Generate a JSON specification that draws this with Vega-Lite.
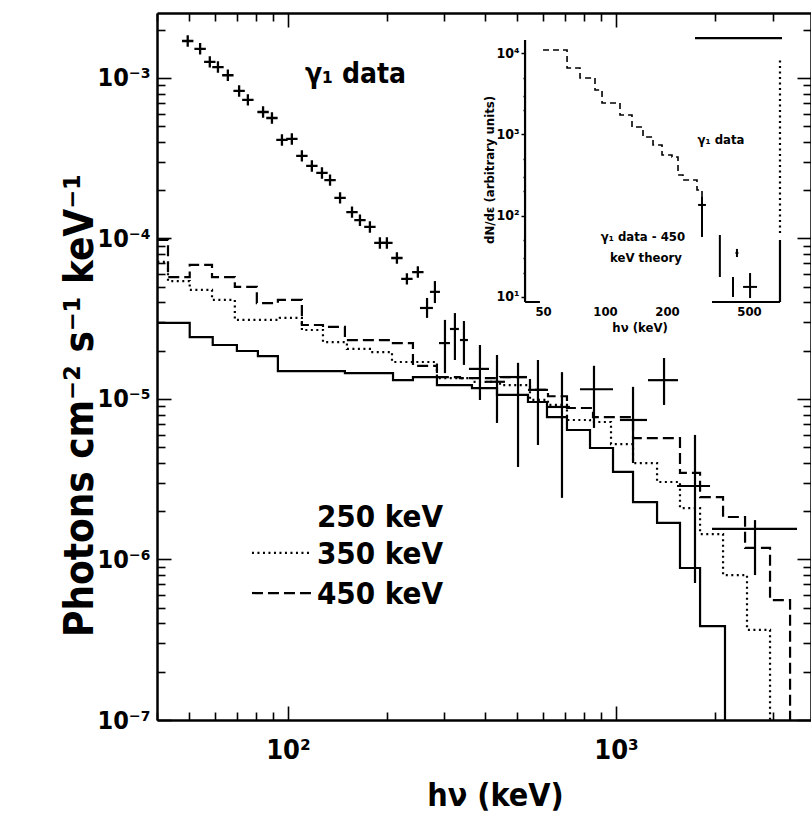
{
  "$schema": "https://vega.github.io/schema/vega-lite/v6.json",
  "autosize": {"type": "none"},
  "padding": {"left": 157, "top": 13, "right": 0, "bottom": 94},
  "width": 654,
  "height": 707,
  "background": "white",
  "config": {"view": {"stroke": null}, "font": "Liberation Sans Narrow, DejaVu Sans Condensed, Liberation Sans, sans-serif"},
  "datasets": {
    "steps": [
      {"s": "250 keV", "x": 40, "y": 2.98e-5}, {"s": "250 keV", "x": 50.2, "y": 2.43e-5}, {"s": "250 keV", "x": 59, "y": 2.17e-5},
      {"s": "250 keV", "x": 69.9, "y": 1.99e-5}, {"s": "250 keV", "x": 81, "y": 1.85e-5}, {"s": "250 keV", "x": 93.2, "y": 1.49e-5},
      {"s": "250 keV", "x": 149.2, "y": 1.45e-5}, {"s": "250 keV", "x": 209.1, "y": 1.31e-5}, {"s": "250 keV", "x": 240.5, "y": 1.37e-5},
      {"s": "250 keV", "x": 284.6, "y": 1.22e-5}, {"s": "250 keV", "x": 363.9, "y": 1.17e-5}, {"s": "250 keV", "x": 433.8, "y": 1.06e-5},
      {"s": "250 keV", "x": 539.1, "y": 9.58e-6}, {"s": "250 keV", "x": 616.1, "y": 7.72e-6}, {"s": "250 keV", "x": 708.9, "y": 6.41e-6},
      {"s": "250 keV", "x": 833.3, "y": 4.95e-6}, {"s": "250 keV", "x": 979.3, "y": 3.51e-6}, {"s": "250 keV", "x": 1127, "y": 2.28e-6},
      {"s": "250 keV", "x": 1334, "y": 1.69e-6}, {"s": "250 keV", "x": 1567, "y": 8.85e-7}, {"s": "250 keV", "x": 1804, "y": 3.85e-7},
      {"s": "250 keV", "x": 2149, "y": 1e-7},
      {"s": "350 keV", "x": 40, "y": 7.14e-5}, {"s": "350 keV", "x": 43.1, "y": 5.43e-5}, {"s": "350 keV", "x": 50.2, "y": 4.78e-5},
      {"s": "350 keV", "x": 58.7, "y": 4.14e-5}, {"s": "350 keV", "x": 68.9, "y": 3.11e-5}, {"s": "350 keV", "x": 94.5, "y": 3.2e-5},
      {"s": "350 keV", "x": 110.3, "y": 2.69e-5}, {"s": "350 keV", "x": 127.9, "y": 2.26e-5}, {"s": "350 keV", "x": 151.3, "y": 2.05e-5},
      {"s": "350 keV", "x": 177.8, "y": 1.96e-5}, {"s": "350 keV", "x": 207.6, "y": 1.7e-5}, {"s": "350 keV", "x": 284.6, "y": 1.35e-5},
      {"s": "350 keV", "x": 366.4, "y": 1.28e-5}, {"s": "350 keV", "x": 443, "y": 1.22e-5}, {"s": "350 keV", "x": 546.8, "y": 9.86e-6},
      {"s": "350 keV", "x": 620.5, "y": 9.18e-6}, {"s": "350 keV", "x": 708.9, "y": 7.4e-6}, {"s": "350 keV", "x": 833.3, "y": 7.19e-6},
      {"s": "350 keV", "x": 965.7, "y": 5.24e-6}, {"s": "350 keV", "x": 1127, "y": 3.99e-6}, {"s": "350 keV", "x": 1334, "y": 3.04e-6},
      {"s": "350 keV", "x": 1567, "y": 2.09e-6}, {"s": "350 keV", "x": 1804, "y": 1.44e-6}, {"s": "350 keV", "x": 2120, "y": 8e-7},
      {"s": "350 keV", "x": 2508, "y": 3.64e-7}, {"s": "350 keV", "x": 2948, "y": 1e-7},
      {"s": "450 keV", "x": 40, "y": 9.79e-5}, {"s": "450 keV", "x": 43.1, "y": 5.75e-5}, {"s": "450 keV", "x": 50.2, "y": 6.84e-5},
      {"s": "450 keV", "x": 58.7, "y": 5.75e-5}, {"s": "450 keV", "x": 68.9, "y": 4.99e-5}, {"s": "450 keV", "x": 80.4, "y": 3.96e-5},
      {"s": "450 keV", "x": 93.2, "y": 4.14e-5}, {"s": "450 keV", "x": 110.3, "y": 2.89e-5}, {"s": "450 keV", "x": 127.9, "y": 2.81e-5},
      {"s": "450 keV", "x": 149.2, "y": 2.33e-5}, {"s": "450 keV", "x": 204.6, "y": 2.23e-5}, {"s": "450 keV", "x": 240.5, "y": 1.61e-5},
      {"s": "450 keV", "x": 284.6, "y": 1.37e-5}, {"s": "450 keV", "x": 334.5, "y": 1.35e-5}, {"s": "450 keV", "x": 443, "y": 1.37e-5},
      {"s": "450 keV", "x": 546.8, "y": 1.14e-5}, {"s": "450 keV", "x": 620.5, "y": 1.04e-5}, {"s": "450 keV", "x": 708.9, "y": 8.79e-6},
      {"s": "450 keV", "x": 851.1, "y": 7.72e-6}, {"s": "450 keV", "x": 1127, "y": 5.71e-6}, {"s": "450 keV", "x": 1567, "y": 3.46e-6},
      {"s": "450 keV", "x": 1804, "y": 2.45e-6}, {"s": "450 keV", "x": 2120, "y": 1.84e-6}, {"s": "450 keV", "x": 2474, "y": 1.18e-6},
      {"s": "450 keV", "x": 2948, "y": 5.59e-7}, {"s": "450 keV", "x": 3393, "y": 1e-7}
    ],
    "gamma": [
      {"x": 49.5, "y": 1.70e-3}, {"x": 54.0, "y": 1.52e-3}, {"x": 57.8, "y": 1.26e-3}, {"x": 61.2, "y": 1.17e-3},
      {"x": 65.6, "y": 1.04e-3}, {"x": 71.0, "y": 8.30e-4}, {"x": 75.5, "y": 7.30e-4}, {"x": 84.0, "y": 6.14e-4},
      {"x": 89.4, "y": 5.63e-4}, {"x": 95.9, "y": 4.11e-4}, {"x": 102.8, "y": 4.17e-4}, {"x": 110.3, "y": 3.27e-4},
      {"x": 118.3, "y": 2.83e-4}, {"x": 127.0, "y": 2.56e-4}, {"x": 134.4, "y": 2.31e-4}, {"x": 144.2, "y": 1.79e-4},
      {"x": 156.8, "y": 1.46e-4}, {"x": 165.8, "y": 1.30e-4}, {"x": 177.8, "y": 1.18e-4}, {"x": 190.7, "y": 9.38e-5},
      {"x": 200.3, "y": 9.38e-5}, {"x": 214.9, "y": 7.56e-5}, {"x": 230.5, "y": 5.60e-5}, {"x": 248.9, "y": 6.18e-5}
    ],
    "bars": [
      {"x": 265.5, "y": 3.69e-5, "xlo": 252.6, "xhi": 276.7, "ylo": 3.2e-5, "yhi": 4.26e-5},
      {"x": 280.6, "y": 4.65e-5, "xlo": 271, "xhi": 290.7, "ylo": 3.96e-5, "yhi": 5.43e-5},
      {"x": 301.1, "y": 2.23e-5, "xlo": 288.7, "xhi": 311.8, "ylo": 1.45e-5, "yhi": 3.11e-5},
      {"x": 322.9, "y": 2.73e-5, "xlo": 311.8, "xhi": 332.0, "ylo": 1.75e-5, "yhi": 3.43e-5},
      {"x": 344.0, "y": 2.33e-5, "xlo": 334.5, "xhi": 353.8, "ylo": 1.63e-5, "yhi": 3.06e-5},
      {"x": 384.9, "y": 1.54e-5, "xlo": 356.3, "xhi": 410.1, "ylo": 9.86e-6, "yhi": 2.17e-5},
      {"x": 433.8, "y": 1.28e-5, "xlo": 401.5, "xhi": 458.7, "ylo": 7.09e-6, "yhi": 1.88e-5},
      {"x": 502.8, "y": 1.37e-5, "xlo": 452.3, "xhi": 535.3, "ylo": 3.77e-6, "yhi": 1.68e-5},
      {"x": 578.3, "y": 1.14e-5, "xlo": 539.1, "xhi": 620.5, "ylo": 5.17e-6, "yhi": 1.75e-5},
      {"x": 684.5, "y": 8.92e-6, "xlo": 620.5, "xhi": 723.9, "ylo": 2.42e-6, "yhi": 1.47e-5},
      {"x": 856.9, "y": 1.15e-5, "xlo": 776.7, "xhi": 979.3, "ylo": 6.6e-6, "yhi": 1.61e-5},
      {"x": 1127, "y": 7.4e-6, "xlo": 1028, "xhi": 1243, "ylo": 3.99e-6, "yhi": 1.19e-5},
      {"x": 1401, "y": 1.31e-5, "xlo": 1252, "xhi": 1545, "ylo": 9.18e-6, "yhi": 1.8e-5},
      {"x": 1741, "y": 2.87e-6, "xlo": 1535, "xhi": 1935, "ylo": 7.14e-7, "yhi": 5.97e-6},
      {"x": 2653, "y": 1.55e-6, "xlo": 1962, "xhi": 3563, "ylo": 8.0e-7, "yhi": 1.76e-6}
    ],
    "maintext": [
      {"t": "γ₁ data", "x": 112.7, "y": 1.045e-3, "f": 28},
      {"t": "250 keV", "x": 122.6, "y": 1.81e-6, "f": 31},
      {"t": "350 keV", "x": 122.6, "y": 1.07e-6, "f": 31},
      {"t": "450 keV", "x": 122.6, "y": 6.01e-7, "f": 31}
    ],
    "samples": [
      {"s": "350 keV", "x": 77.7, "x2": 118.4, "y": 1.10e-6},
      {"s": "450 keV", "x": 77.7, "x2": 118.4, "y": 6.18e-7}
    ],
    "insetline": [
      {"x": 50, "y": 10900}, {"x": 65.4, "y": 6560}, {"x": 75.6, "y": 4940}, {"x": 89.4, "y": 3520},
      {"x": 96.7, "y": 2430}, {"x": 118.2, "y": 1730}, {"x": 135.2, "y": 1230}, {"x": 152.9, "y": 929},
      {"x": 171, "y": 741}, {"x": 189.1, "y": 558}, {"x": 211.4, "y": 527}, {"x": 226.1, "y": 317},
      {"x": 239.1, "y": 275}, {"x": 279.6, "y": 207}, {"x": 295.7, "y": 143}
    ],
    "insetbars": [
      {"x": 295.7, "y": 135.5, "xlo": 283, "xhi": 309, "ylo": 54.7, "yhi": 170},
      {"x": 361, "y": 31.9, "xlo": 361, "xhi": 361, "ylo": 17.6, "yhi": 57.9},
      {"x": 418, "y": 13.3, "xlo": 418, "xhi": 418, "ylo": 10, "yhi": 17.6},
      {"x": 437, "y": 34.8, "xlo": 430, "xhi": 444, "ylo": 31, "yhi": 39},
      {"x": 506, "y": 13.3, "xlo": 468, "xhi": 547, "ylo": 9.7, "yhi": 19.7}
    ],
    "insetframe": [
      {"k": "solid", "x": 40.9, "x2": 40.9, "y": 8.68, "y2": 14500},
      {"k": "solid", "x": 40.9, "x2": 48.3, "y": 8.68, "y2": 8.68},
      {"k": "solid", "x": 330.7, "x2": 707, "y": 8.68, "y2": 8.68},
      {"k": "solid", "x": 707, "x2": 707, "y": 8.68, "y2": 50.2},
      {"k": "dotted", "x": 707, "x2": 707, "y": 61.2, "y2": 8950},
      {"k": "solid", "x": 273.5, "x2": 723, "y": 15300, "y2": 15300}
    ],
    "insettext": [
      {"t": "γ₁ data", "x": 365.6, "y": 853},
      {"t": "γ₁ data - 450", "x": 152.8, "y": 54.7},
      {"t": "keV theory", "x": 158, "y": 30.2},
      {"t": "hν (keV)", "x": 148, "y": 4.16},
      {"t": "dN/dε (arbitrary units)", "x": 27.7, "y": 365}
    ]
  },
  "layer": [
    {
      "layer": [
        {
          "data": {"name": "steps"},
          "mark": {"type": "line", "interpolate": "step-after", "color": "black", "strokeWidth": 2.2, "clip": true},
          "encoding": {
            "x": {"field": "x", "type": "quantitative",
              "scale": {"type": "log", "domain": [39.9, 3930], "nice": false},
              "axis": {"orient": "bottom", "grid": false, "ticks": false,
                "values": [100, 1000],
                "labelExpr": "datum.value == 100 ? '10²' : '10³'",
                "labelOverlap": false, "labelFlush": false,
                "domainColor": "black", "domainWidth": 2.5,
                "labelFont": "Liberation Sans Narrow, DejaVu Sans Condensed, Liberation Sans", "labelFontSize": 27, "labelFontWeight": "bold", "labelColor": "black", "labelPadding": 17,
                "title": "hν (keV)", "titleFont": "Liberation Sans Narrow, DejaVu Sans Condensed, Liberation Sans", "titleFontSize": 32, "titleFontWeight": "bold", "titleColor": "black", "titleX": 338, "titleY": 75, "titleBaseline": "middle"}},
            "y": {"field": "y", "type": "quantitative",
              "scale": {"type": "log", "domain": [1e-7, 2.54e-3], "nice": false},
              "axis": {"orient": "left", "grid": false, "ticks": false,
                "values": [1e-7, 1e-6, 1e-5, 1e-4, 1e-3],
                "labelExpr": "datum.value == 1e-3 ? '10⁻³' : datum.value == 1e-4 ? '10⁻⁴' : datum.value == 1e-5 ? '10⁻⁵' : datum.value == 1e-6 ? '10⁻⁶' : '10⁻⁷'",
                "labelOverlap": false, "labelFlush": false,
                "domainColor": "black", "domainWidth": 2.5,
                "labelFont": "Liberation Sans Narrow, DejaVu Sans Condensed, Liberation Sans", "labelFontSize": 25, "labelFontWeight": "bold", "labelColor": "black", "labelPadding": 7,
                "title": "Photons cm⁻² s⁻¹ keV⁻¹", "titleFont": "Liberation Sans Narrow, DejaVu Sans Condensed, Liberation Sans", "titleFontSize": 40, "titleFontWeight": "bold", "titleColor": "black", "titleX": -77, "titleY": 392, "titleBaseline": "middle", "titleAngle": 270}},
            "strokeDash": {"field": "s", "type": "nominal",
              "scale": {"domain": ["250 keV", "350 keV", "450 keV"], "range": [[1, 0], [2, 3.5], [11, 5]]}, "legend": null}
          }
        },
        {
          "data": {"name": "bars"},
          "mark": {"type": "rule", "color": "black", "strokeWidth": 2.2, "clip": true},
          "encoding": {
            "x": {"field": "x", "type": "quantitative",
              "axis": {"orient": "top", "offset": -707, "grid": false, "labels": false, "title": null, "domain": false,
                "values": [40, 50, 60, 70, 80, 90, 100, 200, 300, 400, 500, 600, 700, 800, 900, 1000, 2000, 3000],
                "tickSize": {"condition": {"test": "datum.value == 100 || datum.value == 1000", "value": 14}, "value": 8},
                "tickColor": "black", "tickWidth": 1.6}},
            "y": {"field": "ylo", "type": "quantitative",
              "axis": {"orient": "right", "offset": -654, "grid": false, "labels": false, "title": null, "domain": false,
                "values": [1e-7, 2e-7, 3e-7, 4e-7, 5e-7, 6e-7, 7e-7, 8e-7, 9e-7, 1e-6, 2e-6, 3e-6, 4e-6, 5e-6, 6e-6, 7e-6, 8e-6, 9e-6, 1e-5, 2e-5, 3e-5, 4e-5, 5e-5, 6e-5, 7e-5, 8e-5, 9e-5, 1e-4, 2e-4, 3e-4, 4e-4, 5e-4, 6e-4, 7e-4, 8e-4, 9e-4, 1e-3, 2e-3],
                "tickSize": {"condition": {"test": "indexof([1e-7, 1e-6, 1e-5, 1e-4, 1e-3], datum.value) >= 0", "value": 14}, "value": 8},
                "tickColor": "black", "tickWidth": 1.6}},
            "y2": {"field": "yhi"}
          }
        },
        {
          "data": {"name": "bars"},
          "mark": {"type": "rule", "color": "black", "strokeWidth": 2.2, "clip": true},
          "encoding": {
            "x": {"field": "xlo", "type": "quantitative",
              "axis": {"orient": "bottom", "offset": -707, "grid": false, "labels": false, "title": null,
                "domainColor": "black", "domainWidth": 2.5,
                "values": [40, 50, 60, 70, 80, 90, 100, 200, 300, 400, 500, 600, 700, 800, 900, 1000, 2000, 3000],
                "tickSize": {"condition": {"test": "datum.value == 100 || datum.value == 1000", "value": 14}, "value": 8},
                "tickColor": "black", "tickWidth": 1.6}},
            "x2": {"field": "xhi"},
            "y": {"field": "y", "type": "quantitative",
              "axis": {"orient": "left", "offset": -654, "grid": false, "labels": false, "title": null,
                "domainColor": "black", "domainWidth": 2.5,
                "values": [1e-7, 2e-7, 3e-7, 4e-7, 5e-7, 6e-7, 7e-7, 8e-7, 9e-7, 1e-6, 2e-6, 3e-6, 4e-6, 5e-6, 6e-6, 7e-6, 8e-6, 9e-6, 1e-5, 2e-5, 3e-5, 4e-5, 5e-5, 6e-5, 7e-5, 8e-5, 9e-5, 1e-4, 2e-4, 3e-4, 4e-4, 5e-4, 6e-4, 7e-4, 8e-4, 9e-4, 1e-3, 2e-3],
                "tickSize": {"condition": {"test": "indexof([1e-7, 1e-6, 1e-5, 1e-4, 1e-3], datum.value) >= 0", "value": 14}, "value": 8},
                "tickColor": "black", "tickWidth": 1.6}}
          }
        },
        {
          "data": {"name": "gamma"},
          "mark": {"type": "point", "shape": "M-1,0L1,0M0,-1L0,1", "size": 130, "filled": false, "color": "black", "strokeWidth": 2.3, "opacity": 1},
          "encoding": {
            "x": {"field": "x", "type": "quantitative", "axis": null},
            "y": {"field": "y", "type": "quantitative", "axis": null}
          }
        },
        {
          "data": {"name": "samples"},
          "mark": {"type": "rule", "color": "black", "strokeWidth": 2.2},
          "encoding": {
            "x": {"field": "x", "type": "quantitative", "axis": null},
            "x2": {"field": "x2"},
            "y": {"field": "y", "type": "quantitative", "axis": null},
            "strokeDash": {"field": "s", "type": "nominal",
              "scale": {"domain": ["250 keV", "350 keV", "450 keV"], "range": [[1, 0], [2, 3.5], [11, 5]]}, "legend": null}
          }
        },
        {
          "data": {"name": "maintext"},
          "mark": {"type": "text", "align": "left", "baseline": "middle", "font": "Liberation Sans Narrow, DejaVu Sans Condensed, Liberation Sans", "fontWeight": "bold", "color": "black"},
          "encoding": {
            "x": {"field": "x", "type": "quantitative", "axis": null},
            "y": {"field": "y", "type": "quantitative", "axis": null},
            "text": {"field": "t"},
            "size": {"field": "f", "type": "quantitative", "scale": null, "legend": null}
          }
        }
      ],
      "resolve": {"axis": {"x": "independent", "y": "independent"}}
    },
    {
      "layer": [
        {
          "data": {"name": "insetline"},
          "mark": {"type": "line", "interpolate": "step-after", "color": "black", "strokeWidth": 1.6, "strokeDash": [6, 4]},
          "encoding": {
            "x": {"field": "x", "type": "quantitative",
              "scale": {"type": "log", "domain": [0.668, 1000], "nice": false},
              "axis": {"orient": "bottom", "offset": -418, "domain": false, "ticks": false, "grid": false,
                "values": [50, 100, 200, 500], "labelOverlap": false, "labelFlush": false,
                "labelFont": "Liberation Sans Narrow, DejaVu Sans Condensed, Liberation Sans", "labelFontSize": 13, "labelFontWeight": "bold", "labelColor": "black", "labelPadding": 3, "title": null}},
            "y": {"field": "y", "type": "quantitative",
              "scale": {"type": "log", "domain": [6.27e-5, 31100], "nice": false},
              "axis": {"orient": "left", "offset": -368, "domain": false, "grid": false,
                "values": [10, 20, 30, 50, 100, 200, 300, 500, 1000, 2000, 3000, 5000, 10000],
                "labelExpr": "datum.value == 10 ? '10¹' : datum.value == 100 ? '10²' : datum.value == 1000 ? '10³' : datum.value == 10000 ? '10⁴' : ''",
                "labelOverlap": false, "labelFlush": false,
                "tickSize": {"condition": {"test": "indexof([10, 100, 1000, 10000], datum.value) >= 0", "value": 4}, "value": 2},
                "tickColor": "black", "tickWidth": 1.5,
                "labelFont": "Liberation Sans Narrow, DejaVu Sans Condensed, Liberation Sans", "labelFontSize": 14, "labelFontWeight": "bold", "labelColor": "black", "labelPadding": 2, "title": null}}
          }
        },
        {
          "data": {"name": "insetbars"},
          "mark": {"type": "rule", "color": "black", "strokeWidth": 2},
          "encoding": {
            "x": {"field": "x", "type": "quantitative", "axis": null},
            "y": {"field": "ylo", "type": "quantitative", "axis": null},
            "y2": {"field": "yhi"}
          }
        },
        {
          "data": {"name": "insetbars"},
          "mark": {"type": "rule", "color": "black", "strokeWidth": 2},
          "encoding": {
            "x": {"field": "xlo", "type": "quantitative", "axis": null},
            "x2": {"field": "xhi"},
            "y": {"field": "y", "type": "quantitative", "axis": null}
          }
        },
        {
          "data": {"name": "insetframe"},
          "mark": {"type": "rule", "color": "black", "strokeWidth": 2.2},
          "encoding": {
            "x": {"field": "x", "type": "quantitative", "axis": null},
            "x2": {"field": "x2"},
            "y": {"field": "y", "type": "quantitative", "axis": null},
            "y2": {"field": "y2"},
            "strokeDash": {"field": "k", "type": "nominal", "scale": {"domain": ["solid", "dotted"], "range": [[1, 0], [2, 6]]}, "legend": null}
          }
        },
        {
          "data": {"name": "insettext"},
          "transform": [{"filter": "datum.t != 'dN/dε (arbitrary units)'"}],
          "mark": {"type": "text", "align": "center", "baseline": "middle", "font": "Liberation Sans Narrow, DejaVu Sans Condensed, Liberation Sans", "fontSize": 13, "fontWeight": "bold", "color": "black"},
          "encoding": {
            "x": {"field": "x", "type": "quantitative", "axis": null},
            "y": {"field": "y", "type": "quantitative", "axis": null},
            "text": {"field": "t"}
          }
        },
        {
          "data": {"name": "insettext"},
          "transform": [{"filter": "datum.t == 'dN/dε (arbitrary units)'"}],
          "mark": {"type": "text", "angle": 270, "align": "center", "baseline": "middle", "font": "Liberation Sans Narrow, DejaVu Sans Condensed, Liberation Sans", "fontSize": 13, "fontWeight": "bold", "color": "black"},
          "encoding": {
            "x": {"field": "x", "type": "quantitative", "axis": null},
            "y": {"field": "y", "type": "quantitative", "axis": null},
            "text": {"field": "t"}
          }
        }
      ],
      "resolve": {"axis": {"x": "independent", "y": "independent"}}
    }
  ],
  "resolve": {"scale": {"x": "independent", "y": "independent"}, "axis": {"x": "independent", "y": "independent"}}
}
